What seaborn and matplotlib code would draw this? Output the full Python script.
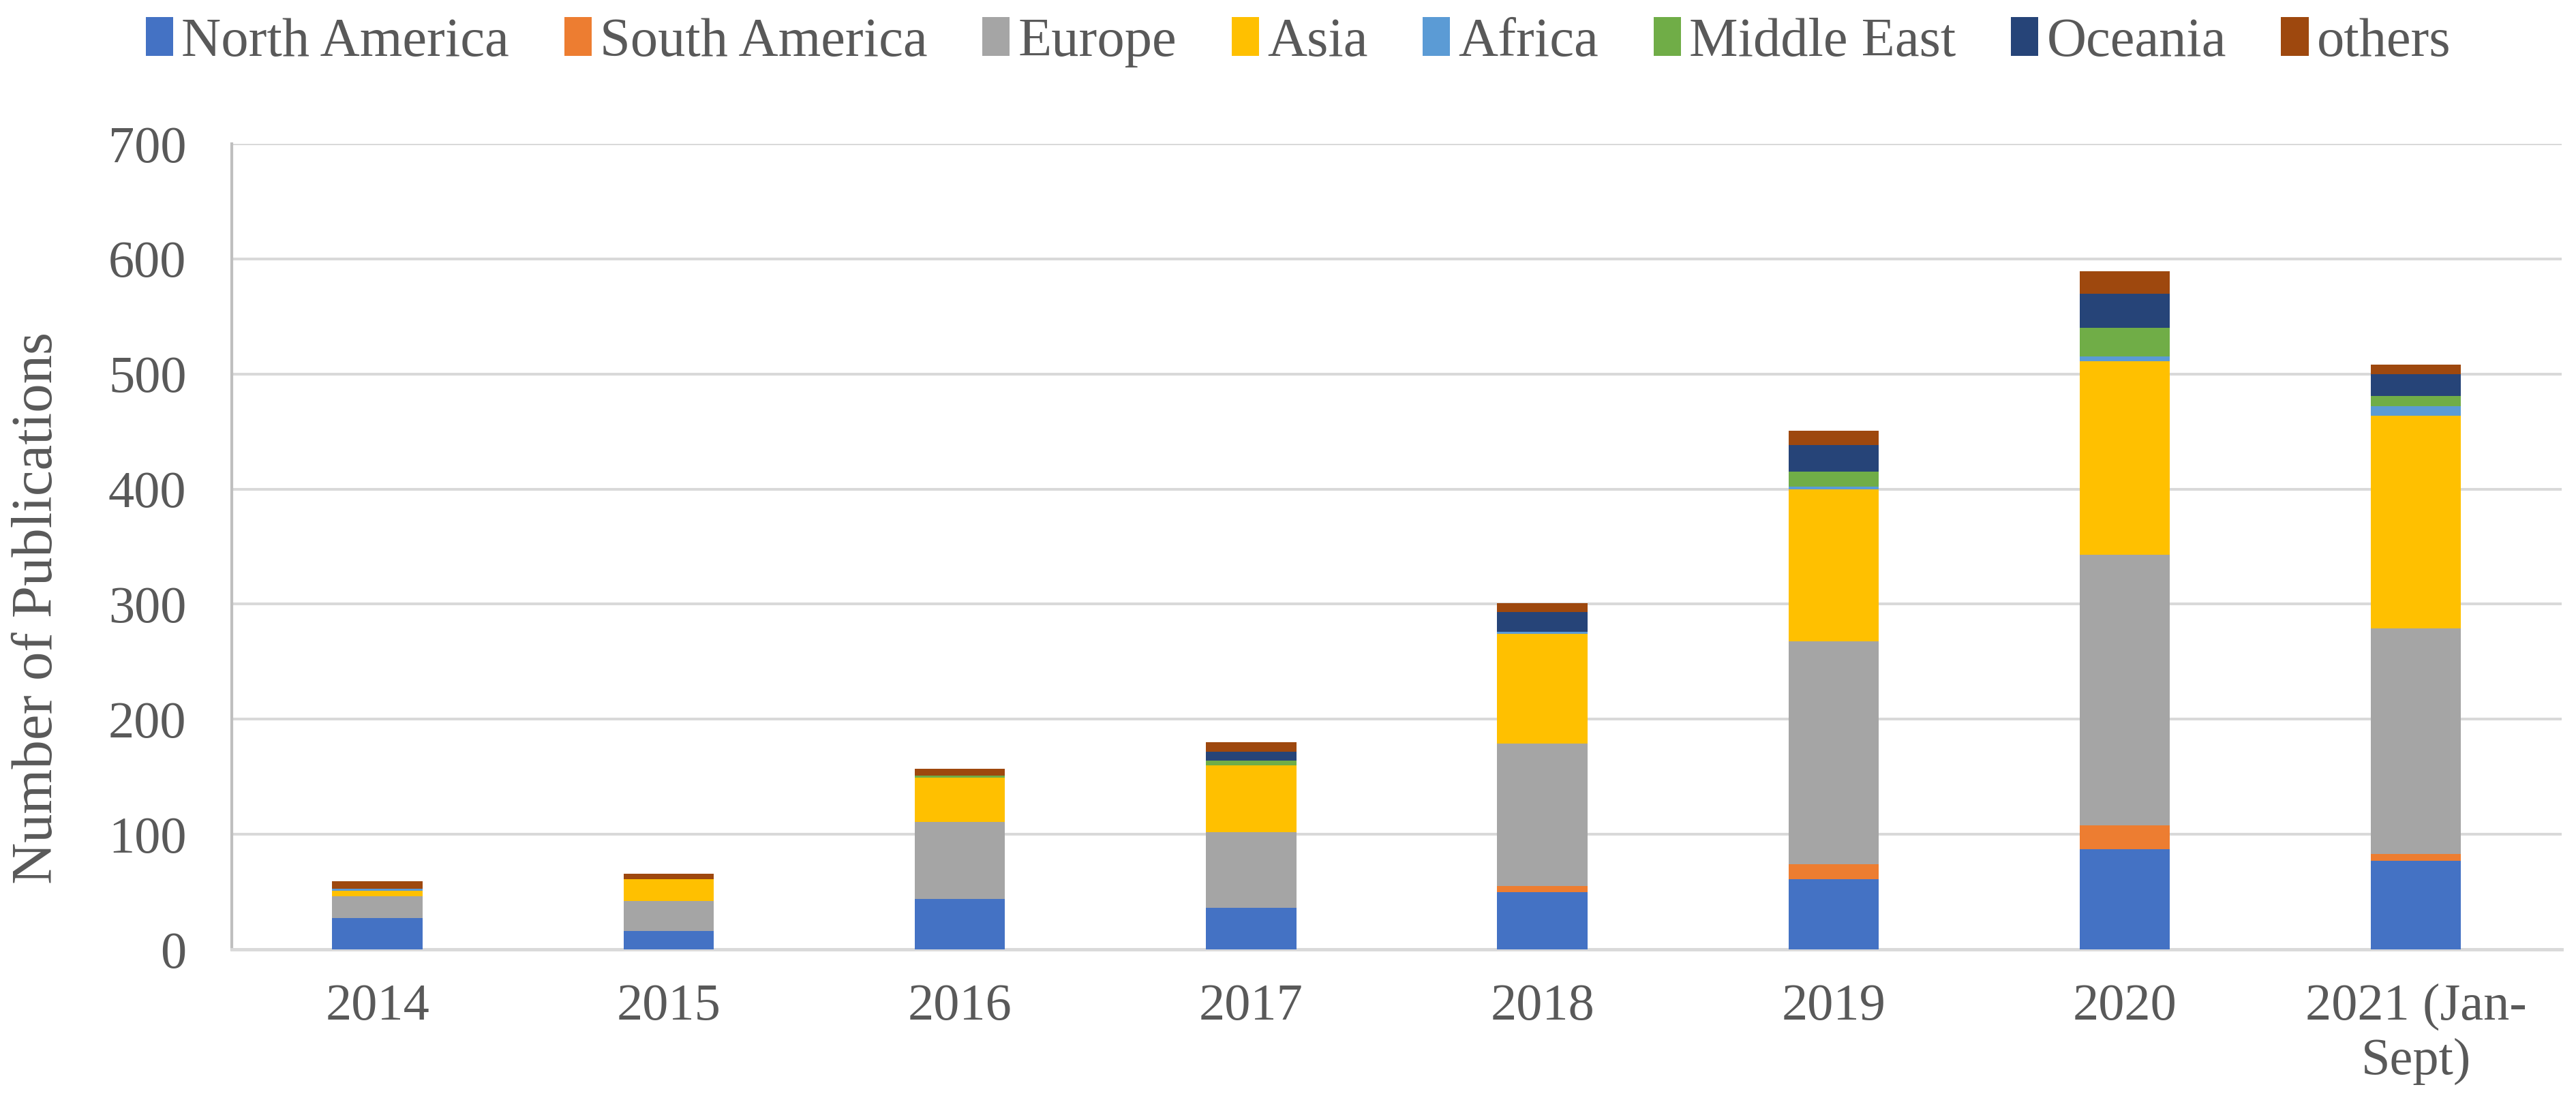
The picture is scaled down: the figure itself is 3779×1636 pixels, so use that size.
import matplotlib
matplotlib.use('Agg')
import matplotlib.pyplot as plt
import numpy as np
import pandas as pd
import seaborn as sns

# values
years = ['2014', '2015', '2016', '2017', '2018', '2019', '2020', '2021 (Jan-\nSept)']
regions = ['North America', 'South America', 'Europe', 'Asia', 'Africa', 'Middle East', 'Oceania', 'others']

north_america = [27, 16, 44, 36, 50, 61, 87, 77]
south_america = [0, 0, 0, 0, 5, 13, 21, 6]
europe = [19, 26, 67, 66, 124, 194, 235, 196]
asia = [5, 19, 38, 58, 95, 132, 168, 185]
africa = [2, 0, 0, 0, 2, 2, 4, 8]
middle_east = [0, 0, 2, 4, 0, 13, 25, 9]
oceania = [0, 0, 0, 8, 17, 23, 30, 19]
others = [6, 5, 6, 8, 8, 13, 19, 8]

colores = ['#4472C4', '#ED7D31', '#A5A5A5', '#FFC000', '#5B9BD5', '#70AD47', '#264478', '#9E480E']

df = pd.DataFrame({
    'North America': north_america,
    'South America': south_america,
    'Europe': europe,
    'Asia': asia,
    'Africa': africa,
    'Middle East': middle_east,
    'Oceania': oceania,
    'others': others,
}, index=years)

sns.set_theme(style='white')
plt.rcParams['font.family'] = ['Liberation Serif', 'DejaVu Serif']

fig = plt.figure(figsize=(37.79, 16.36), dpi=100)
ax = fig.add_axes([0.09, 0.1485, 0.9044, 0.7225])

abajo = np.zeros(len(years))
for region, color in zip(regions, colores):
    valores = df[region].values
    sns.barplot(x=years, y=valores, bottom=abajo, color=color, width=0.31,
                saturation=1, linewidth=0, label=region, ax=ax, zorder=3)
    abajo = abajo + valores

ax.set_ylim(0, 700)
ax.set_xlim(-0.5, len(years) - 0.5)
ax.set_yticks(range(0, 701, 100))
ax.yaxis.grid(True, color='#D9D9D9', linewidth=2.9, zorder=0)
ax.set_axisbelow(True)

for lado in ['top', 'right']:
    ax.spines[lado].set_visible(False)
ax.spines['left'].set_color('#BFBFBF')
ax.spines['left'].set_linewidth(3)
ax.spines['bottom'].set_color('#D9D9D9')
ax.spines['bottom'].set_linewidth(3.5)

ax.tick_params(axis='y', length=0, pad=48, labelsize=55, labelcolor='#595959')
ax.tick_params(axis='x', length=0, pad=36, labelsize=55, labelcolor='#595959')

ax.set_xlabel('')
ax.set_ylabel('Number of Publications', fontsize=61, color='#595959')
ax.yaxis.set_label_coords(-0.072, 0.424)

handles, labels = ax.get_legend_handles_labels()
ax.legend(handles, labels, loc='center', bbox_to_anchor=(0.504, 0.962),
          bbox_transform=fig.transFigure, ncol=8, frameon=False,
          fontsize=58, labelcolor='#595959', handlelength=0.5, handleheight=0.7,
          handletextpad=0.15, columnspacing=1.0)

plt.savefig('out.png', dpi=100)
